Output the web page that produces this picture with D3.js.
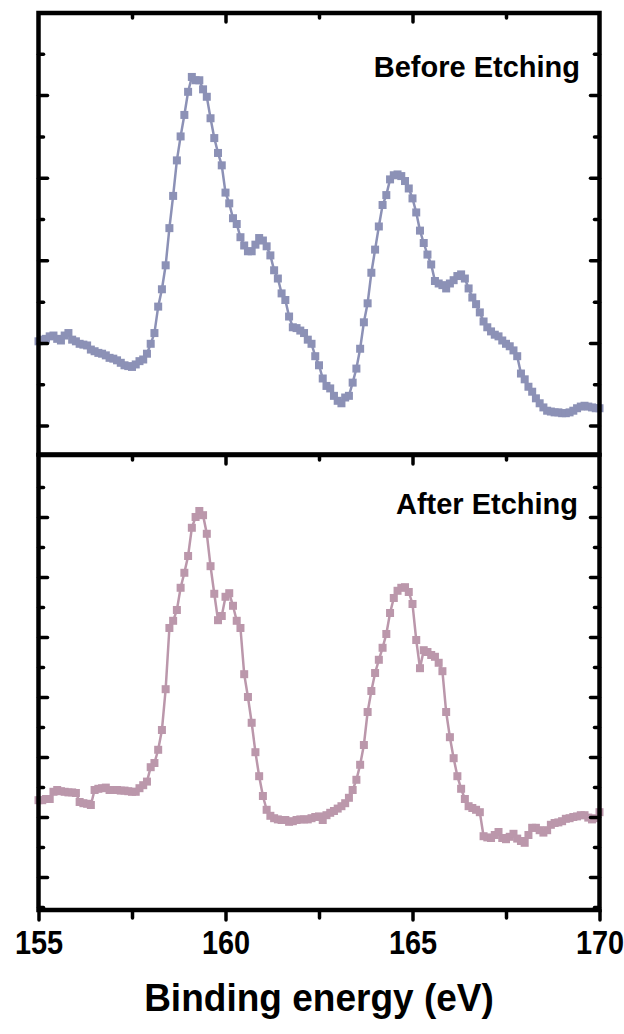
<!DOCTYPE html>
<html lang="en">
<head>
  <meta charset="utf-8">
  <title>S 2p XPS - before / after etching</title>
  <style>
  html, body {padding: 0; margin: 0; overflow: hidden; background: #fff}
  text {font-family: "Liberation Sans", Arial, sans-serif; font-weight: bold}
</style>
</head>
<body>
  <svg width="624" height="1034"></svg>
  <script src="https://d3js.org/d3.v7.min.js"></script>
  <script>

  // binding energy grid (eV), one point every 0.1 eV
  var energyStart = 155, energyStep = 0.1;

  // intensities, arbitrary units
  var beforeEtching = [
    2.02, 2.04, 2.05, 2.08, 2.09, 2.05, 2.03, 2.09, 2.12, 2.04,
    2.02, 1.99, 1.98, 1.97, 1.92, 1.90, 1.88, 1.87, 1.85, 1.82,
    1.81, 1.79, 1.76, 1.73, 1.72, 1.71, 1.74, 1.78, 1.80, 1.87,
    1.99, 2.12, 2.44, 2.65, 2.94, 3.39, 3.78, 4.21, 4.50, 4.76,
    5.04, 5.22, 5.18, 5.18, 5.07, 4.98, 4.72, 4.48, 4.30, 4.15,
    3.82, 3.69, 3.51, 3.44, 3.28, 3.18, 3.11, 3.11, 3.19, 3.27,
    3.24, 3.17, 3.06, 2.88, 2.78, 2.60, 2.52, 2.32, 2.19, 2.18,
    2.15, 2.12, 2.04, 1.99, 1.84, 1.73, 1.57, 1.48, 1.45, 1.36,
    1.30, 1.27, 1.34, 1.36, 1.52, 1.69, 1.93, 2.25, 2.48, 2.85,
    3.13, 3.41, 3.67, 3.79, 3.98, 4.03, 4.04, 4.02, 3.96, 3.87,
    3.75, 3.58, 3.36, 3.21, 3.07, 2.95, 2.75, 2.72, 2.70, 2.66,
    2.72, 2.76, 2.81, 2.83, 2.78, 2.66, 2.55, 2.47, 2.37, 2.26,
    2.19, 2.14, 2.10, 2.08, 2.03, 1.99, 1.96, 1.91, 1.84, 1.63,
    1.56, 1.47, 1.41, 1.33, 1.27, 1.22, 1.18, 1.17, 1.16, 1.16,
    1.15, 1.15, 1.16, 1.18, 1.21, 1.23, 1.24, 1.23, 1.22, 1.21, 1.21
  ];

  var afterEtching = [
    2.28, 2.28, 2.30, 2.30, 2.42, 2.45, 2.43, 2.42, 2.41, 2.41,
    2.40, 2.25, 2.23, 2.22, 2.20, 2.45, 2.47, 2.48, 2.49, 2.45,
    2.45, 2.45, 2.44, 2.44, 2.43, 2.42, 2.42, 2.48, 2.53, 2.59,
    2.83, 2.90, 3.12, 3.45, 4.13, 5.15, 5.27, 5.45, 5.82, 6.07,
    6.35, 6.82, 7.00, 7.10, 7.03, 6.72, 6.18, 5.72, 5.28, 5.35,
    5.67, 5.73, 5.52, 5.27, 5.15, 4.38, 4.00, 3.57, 3.08, 2.68,
    2.35, 2.12, 2.02, 1.98, 1.96, 1.95, 1.95, 1.92, 1.93, 1.95,
    1.96, 1.96, 1.96, 1.98, 2.00, 2.01, 1.95, 2.03, 2.07, 2.10,
    2.14, 2.18, 2.23, 2.32, 2.45, 2.62, 2.87, 3.20, 3.75, 4.10,
    4.40, 4.62, 4.82, 5.05, 5.40, 5.65, 5.77, 5.82, 5.83, 5.75,
    5.55, 4.95, 4.48, 4.78, 4.75, 4.70, 4.67, 4.57, 4.43, 3.75,
    3.33, 2.98, 2.68, 2.47, 2.30, 2.18, 2.15, 2.12, 2.08, 1.68,
    1.66, 1.65, 1.70, 1.75, 1.65, 1.63, 1.67, 1.72, 1.64, 1.60,
    1.57, 1.70, 1.82, 1.82, 1.78, 1.74, 1.78, 1.87, 1.90, 1.91,
    1.93, 1.97, 1.98, 2.00, 2.01, 2.03, 2.03, 1.99, 1.96, 1.98, 2.08
  ];

  var xMajor = [155, 160, 165, 170];
  var xMinor = [157.5, 162.5, 167.5];
  var topMajor = [1, 2, 3, 4, 5];
  var topMinor = [1.5, 2.5, 3.5, 4.5, 5.5];
  var botMajor = [1, 2, 3, 4, 5, 6, 7];
  var botMinor = [0.5, 1.5, 2.5, 3.5, 4.5, 5.5, 6.5, 7.5];

  var svg = d3.select("svg");
  var left = 38.5, right = 599.5;

  var x = d3.scaleLinear().domain([155, 170]).range([left, right]);

  var panels = [
    {name: "Before Etching", values: beforeEtching, color: "#8c91b6",
     top: 13, bottom: 454.5, domain: [0.65, 5.994], major: topMajor, minor: topMinor,
     labelX: 580, labelY: 77},
    {name: "After Etching", values: afterEtching, color: "#bb97ab",
     top: 455, bottom: 910, domain: [0.45, 8.033], major: botMajor, minor: botMinor,
     labelX: 578, labelY: 514, last: true}
  ];

  function styleTicks(g) {
    g.select(".domain").remove();
    g.selectAll(".tick line")
      .attr("stroke", "#000")
      .attr("stroke-width", 3.5)
      .attr("stroke-linecap", "round");
  }

  panels.forEach(function(p) {
    var y = d3.scaleLinear().domain(p.domain).range([p.bottom, p.top]);
    var g = svg.append("g");

    var points = p.values.map(function(v, i) {
      return {e: energyStart + i * energyStep, v: v};
    });

    var line = d3.line()
      .x(function(d) { return x(d.e); })
      .y(function(d) { return y(d.v); });

    g.append("path")
      .datum(points)
      .attr("fill", "none")
      .attr("stroke", p.color)
      .attr("stroke-width", 2.5)
      .attr("d", line);

    g.selectAll("rect.pt")
      .data(points)
      .enter().append("rect")
      .attr("class", "pt")
      .attr("x", function(d) { return x(d.e) - 4; })
      .attr("y", function(d) { return y(d.v) - 4; })
      .attr("width", 8)
      .attr("height", 8)
      .attr("fill", p.color);

    // inward ticks: left, right, top
    g.append("g").attr("transform", "translate(" + left + ",0)")
      .call(d3.axisLeft(y).tickValues(p.major).tickSize(-9).tickFormat(""))
      .call(styleTicks);
    g.append("g").attr("transform", "translate(" + left + ",0)")
      .call(d3.axisLeft(y).tickValues(p.minor).tickSize(-5).tickFormat(""))
      .call(styleTicks);
    g.append("g").attr("transform", "translate(" + right + ",0)")
      .call(d3.axisRight(y).tickValues(p.major).tickSize(-9).tickFormat(""))
      .call(styleTicks);
    g.append("g").attr("transform", "translate(" + right + ",0)")
      .call(d3.axisRight(y).tickValues(p.minor).tickSize(-5).tickFormat(""))
      .call(styleTicks);
    g.append("g").attr("transform", "translate(0," + p.top + ")")
      .call(d3.axisTop(x).tickValues(xMajor.slice(1, -1)).tickSize(-9).tickFormat(""))
      .call(styleTicks);
    g.append("g").attr("transform", "translate(0," + p.top + ")")
      .call(d3.axisTop(x).tickValues(xMinor).tickSize(-5).tickFormat(""))
      .call(styleTicks);

    if (p.last) {
      var xb = g.append("g").attr("transform", "translate(0," + p.bottom + ")")
        .call(d3.axisBottom(x).tickValues(xMajor).tickSize(10).tickPadding(10)
          .tickFormat(d3.format("d")))
        .call(styleTicks);
      xb.selectAll(".tick text")
        .attr("fill", "#000")
        .attr("transform", "scale(0.85,1)")
        .style("font-size", "34px")
        .style("font-family", "'Liberation Sans', Arial, sans-serif")
        .style("font-weight", "bold");
      g.append("g").attr("transform", "translate(0," + p.bottom + ")")
        .call(d3.axisBottom(x).tickValues(xMinor).tickSize(8).tickFormat(""))
        .call(styleTicks);
    }

    g.append("rect")
      .attr("x", left).attr("y", p.top)
      .attr("width", right - left).attr("height", p.bottom - p.top)
      .attr("fill", "none")
      .attr("stroke", "#000")
      .attr("stroke-width", 4.5);

    g.append("text")
      .attr("x", p.labelX).attr("y", p.labelY)
      .attr("text-anchor", "end")
      .style("font-size", "29px")
      .text(p.name);
  });

  svg.append("g")
    .attr("transform", "translate(" + (left + right) / 2 + ",1011) scale(0.95,1)")
    .append("text")
    .attr("text-anchor", "middle")
    .style("font-size", "39px")
    .text("Binding energy (eV)");

  </script>
</body>
</html>
